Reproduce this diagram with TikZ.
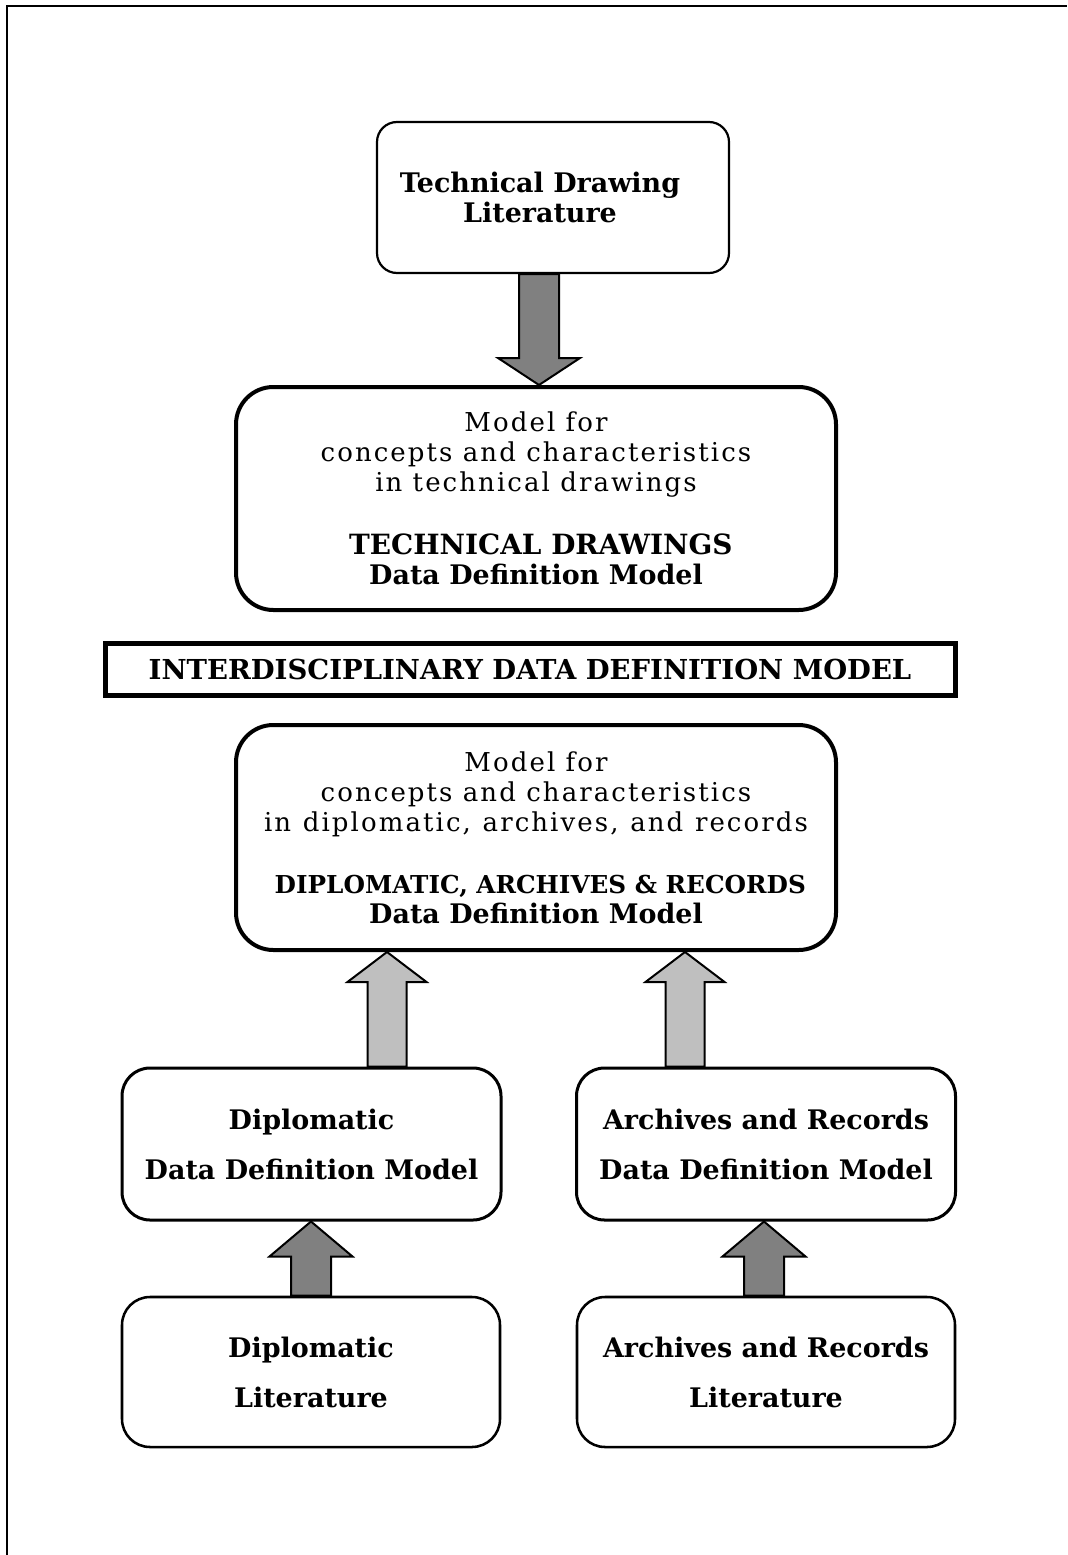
\documentclass[tikz,border=0pt]{standalone}
\usepackage{fontspec}
\setmainfont{DejaVu Serif}
\newfontfamily\spacedfont[LetterSpace=8]{DejaVu Serif}
\usetikzlibrary{calc}

% line fonts: tracked regular and bold titles
\newcommand\rgline{\spacedfont\fontsize{19.5pt}{22.5pt}\selectfont}
\newcommand\bdline[1][20.2pt]{\fontsize{#1}{22.5pt}\selectfont\bfseries}

% block arrow from #1 (base) to #2 (tip); #4 shaft half width, #5 head half width, #6 signed head length
\newcommand\blockarrow[6]{%
  \draw[#3] ($(#1)+(-#4,0)$) -- ($(#2)+(-#4,#6)$) -- ($(#2)+(-#5,#6)$) -- (#2)
    -- ($(#2)+(#5,#6)$) -- ($(#2)+(#4,#6)$) -- ($(#1)+(#4,0)$) -- cycle;}

\begin{document}
\begin{tikzpicture}[x=0.75pt,y=-0.75pt,
  litbox/.style={draw=black, fill=white, line width=1.65pt, rounded corners=15pt,
    inner sep=0pt, align=center},
  modelbox/.style={draw=black, fill=white, line width=3pt, rounded corners=28pt,
    inner sep=0pt, align=center, minimum width=450pt,
    font=\fontsize{19.5pt}{22.5pt}\selectfont},
  interbox/.style={draw=black, fill=white, line width=3.75pt, inner sep=0pt,
    align=center, minimum width=637.5pt, minimum height=39pt,
    font=\fontsize{20.6pt}{22.5pt}\selectfont\bfseries},
  ddmbox/.style={draw=black, fill=white, line width=2.25pt, rounded corners=21pt,
    inner sep=0pt, align=center, minimum width=284.25pt, minimum height=114pt,
    font=\fontsize{20.2pt}{37.5pt}\selectfont\bfseries},
  srcbox/.style={draw=black, fill=white, line width=1.9pt, rounded corners=21pt,
    inner sep=0pt, align=center, minimum width=283.5pt, minimum height=112.5pt,
    font=\fontsize{20.2pt}{37.5pt}\selectfont\bfseries},
  darkarrow/.style={draw=black, fill=black!50, line width=1.5pt, line join=miter},
  lightarrow/.style={draw=black, fill=black!25, line width=1.5pt, line join=miter},
  frameline/.style={draw=black, line width=1.6pt}
]
\useasboundingbox (0,0) rectangle (1067,1555);

% page frame (top and left edges)
\draw[frameline] (7,1555) -- (7,6) -- (1067,6);

% boxes
\node[litbox, minimum width=264pt, minimum height=113.25pt] (tdl) at (553,197.5) {};
\node[font=\fontsize{20.2pt}{22.5pt}\selectfont\bfseries, align=center] (tdltext)
  at (540,197.5) {Technical Drawing\\Literature};

\node[modelbox, minimum height=167.25pt] (tdm) at (536,498.5) {%
  \rgline Model for\\
  \rgline concepts and characteristics\\
  \rgline in technical drawings\\[24.5pt]
  \bdline[20.9pt] TECHNICAL DRAWINGS\\
  \bdline Data Definition Model};

\node[interbox] (idm) at (530,669) {INTERDISCIPLINARY DATA DEFINITION MODEL};

\node[modelbox, minimum height=168.75pt] (ddm) at (536,837.5) {%
  \rgline Model for\\
  \rgline concepts and characteristics\\
  \rgline\spaceskip=0.45em in diplomatic, archives, and records\\[24pt]
  \bdline[18.5pt] DIPLOMATIC, ARCHIVES \& RECORDS\\
  \bdline Data Definition Model};

\node[ddmbox] (dipddm) at (311.5,1144) {Diplomatic\\Data Definition Model};
\node[ddmbox] (arcddm) at (766,1144) {Archives and Records\\Data Definition Model};

\node[srcbox] (diplit) at (311,1372) {Diplomatic\\Literature};
\node[srcbox] (arclit) at (766,1372) {Archives and Records\\Literature};

% arrow axes
\coordinate (ax1) at (539,0);
\coordinate (ax2) at (387,0);
\coordinate (ax3) at (685,0);
\coordinate (ax4) at (311,0);
\coordinate (ax5) at (764,0);

% arrows
\blockarrow{tdl.south -| ax1}{tdm.north -| ax1}{darkarrow}{20}{41}{-27}
\blockarrow{dipddm.north -| ax2}{ddm.south -| ax2}{lightarrow}{19.5}{39.5}{30}
\blockarrow{arcddm.north -| ax3}{ddm.south -| ax3}{lightarrow}{19.5}{39.5}{30}
\blockarrow{diplit.north -| ax4}{dipddm.south -| ax4}{darkarrow}{20}{41.5}{35}
\blockarrow{arclit.north -| ax5}{arcddm.south -| ax5}{darkarrow}{20}{41.5}{35}
\end{tikzpicture}
\end{document}
